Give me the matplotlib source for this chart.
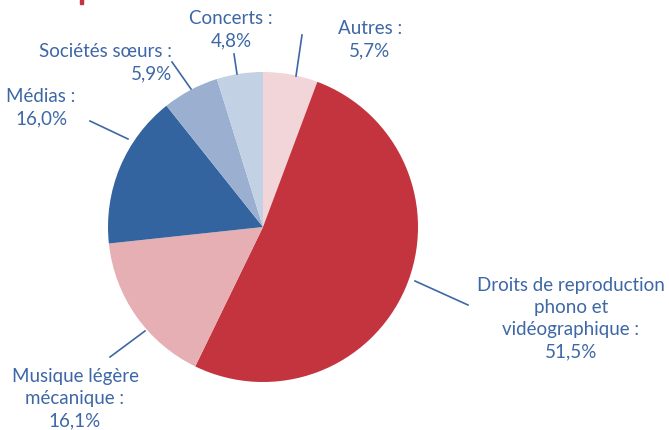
import matplotlib.pyplot as plt
from matplotlib.patches import Rectangle

# parts, clockwise from the top
labels = ['Autres :\n5,7%',
          'Droits de reproduction\nphono et\nvidéographique :\n51,5%',
          'Musique légère\nmécanique :\n16,1%',
          'Médias :\n16,0%',
          'Sociétés sœurs :\n5,9%',
          'Concerts :\n4,8%']
values = [5.7, 51.5, 16.1, 16.0, 5.9, 4.8]
colors = ['#F2D5D8', '#C4343F', '#E5AFB3', '#34649F', '#9BB0D0', '#C3D1E5']

W, H = 669, 431
blue = '#3D67A6'
plt.rcParams['font.family'] = ['Lato', 'DejaVu Sans']

fig = plt.figure(figsize=(W / 100, H / 100), dpi=100)
ax = fig.add_axes([0, 0, 1, 1])

ax.pie(values, colors=colors, startangle=90, counterclock=False,
       center=(263, H - 228), radius=155, frame=True,
       wedgeprops=dict(linewidth=0))
ax.set_xlim(0, W)
ax.set_ylim(0, H)
ax.set_aspect('equal')
ax.axis('off')

# label positions (pixels, from top) and leader lines
text_pos = [(370, 20, 'center'), (571, 277, 'center'), (75, 368, 'center'),
            (41, 88, 'center'), (172, 43, 'right'), (231, 10, 'center')]
lines = [((302, 36), (296, 77)), ((468, 306), (415, 282)), ((110, 358), (145, 332)),
         ((90, 122), (128, 140)), ((172, 63), (191, 90)), ((234, 55), (237, 75))]

for lab, (x, y, ha), ((x1, y1), (x2, y2)) in zip(labels, text_pos, lines):
    ax.text(x, H - y, lab, ha=ha, va='top', color=blue, fontsize=13.5,
            linespacing=1.37, multialignment=ha)
    ax.plot([x1, x2], [H - y1, H - y2], color=blue, lw=1.2)

# cut-off part of the title
fig.patches.append(Rectangle((80 / W, 1 - 5 / H), 3 / W, 5 / H,
                             transform=fig.transFigure, color='#C4343F'))

fig.savefig('out.png', dpi=100)
